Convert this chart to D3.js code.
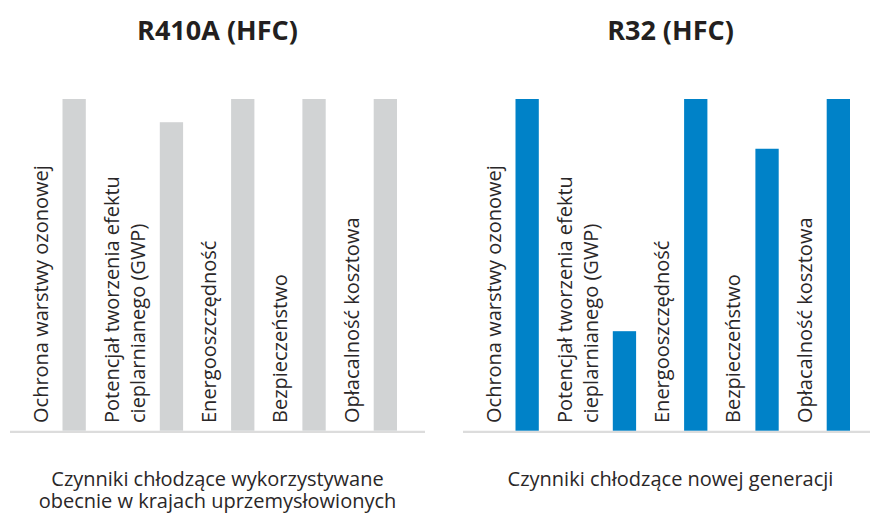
<!DOCTYPE html>
<html>
<head>
<meta charset="utf-8">
<script src="https://cdn.jsdelivr.net/npm/d3@7"></script>
<style>
  html, body { margin: 0; padding: 0; background: #fff; }
  svg { display: block; font-family: "Open Sans", sans-serif; }
</style>
</head>
<body>
<div id="chart"></div>
<script>
// categories (rotated labels, one entry per line)
const categories = [
  ['Ochrona warstwy ozonowej'],
  ['Potencjał tworzenia efektu', 'cieplarnianego (GWP)'],
  ['Energooszczędność'],
  ['Bezpieczeństwo'],
  ['Opłacalność kosztowa'],
];
const panelTitles = ['R410A (HFC)', 'R32 (HFC)'];
const panelCaptions = [
  ['Czynniki chłodzące wykorzystywane', 'obecnie w krajach uprzemysłowionych'],
  ['Czynniki chłodzące nowej generacji'],
];
const r410aValues = [100, 93, 100, 100, 100];
const r32Values = [100, 30, 100, 85, 100];
const seriesValues = [r410aValues, r32Values];
const barColors = ['#d1d3d4', '#0082c8'];

const width = 870;
const height = 514;
const panelWidth = 415;
const panelX = [10, 463];

const svg = d3
  .select('#chart')
  .append('svg')
  .attr('width', width)
  .attr('height', height);

const y = d3.scaleLinear().domain([0, 100]).range([430.7, 99]);

// horizontal layout: label lines then the bar, per category
const barW = 23.3;
const lineGap = 26;
const ascent = 14;
const labelToBar = 15;
const groupGap = 19;
const layout = [];
let cursor = 23.5;
categories.forEach((lines) => {
  const baselines = lines.map((l, i) => cursor + ascent + i * lineGap);
  const barX = baselines[baselines.length - 1] + labelToBar;
  layout.push({ lines, baselines, barX });
  cursor = barX + barW + groupGap;
});
const x = d3.scaleLinear().domain([0, panelWidth]).range([0, panelWidth]);

seriesValues.forEach((values, p) => {
  const g = svg.append('g').attr('transform', `translate(${panelX[p]},0)`);

  g.append('text')
    .attr('x', panelWidth / 2)
    .attr('y', 40)
    .attr('text-anchor', 'middle')
    .attr('font-weight', 700)
    .attr('font-size', 27)
    .attr('fill', '#231f20')
    .text(panelTitles[p]);

  g.append('line')
    .attr('x1', 0)
    .attr('x2', panelWidth)
    .attr('y1', 431.8)
    .attr('y2', 431.8)
    .attr('stroke', '#dcdcdc')
    .attr('stroke-width', 2.2);

  g.selectAll('.bar')
    .data(values)
    .enter()
    .append('rect')
    .attr('class', 'bar')
    .attr('x', (d, i) => x(layout[i].barX))
    .attr('y', (d) => y(d))
    .attr('width', barW)
    .attr('height', (d) => y(0) - y(d))
    .attr('fill', barColors[p]);

  layout.forEach((c) => {
    c.lines.forEach((line, k) => {
      g.append('text')
        .attr('transform', `translate(${x(c.baselines[k])},423) rotate(-90)`)
        .attr('font-size', 20)
        .attr('fill', '#2a2728')
        .text(line);
    });
  });

  panelCaptions[p].forEach((line, k) => {
    g.append('text')
      .attr('x', panelWidth / 2)
      .attr('y', 486 + k * 22)
      .attr('text-anchor', 'middle')
      .attr('font-size', 20)
      .attr('fill', '#2a2728')
      .text(line);
  });
});
</script>
</body>
</html>
